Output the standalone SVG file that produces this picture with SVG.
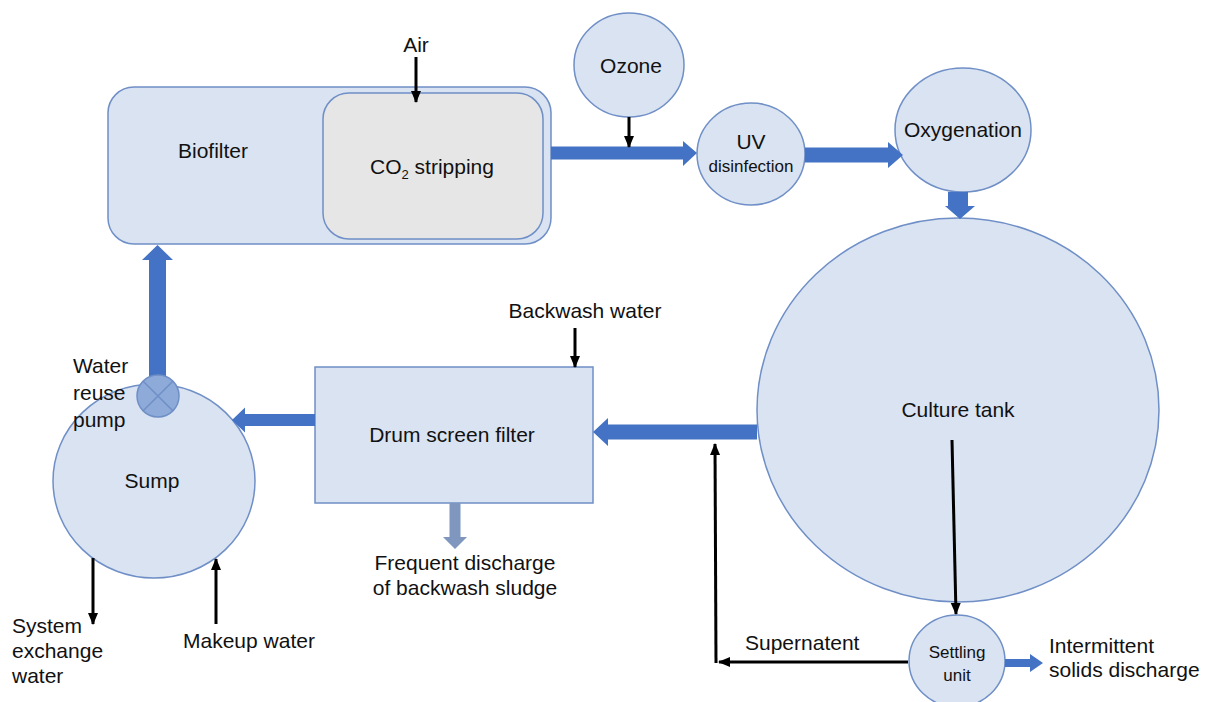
<svg xmlns="http://www.w3.org/2000/svg" width="1215" height="702" viewBox="0 0 1215 702">
<style>
text{font-family:"Liberation Sans",Arial,sans-serif;font-size:21px;fill:#111}
.sm{font-size:17px}
.node{fill:#d9e3f2;stroke:#6f8fc6;stroke-width:1.5}
.inner{fill:#e6e6e6;stroke:#6f8fc6;stroke-width:1.5}
.thick{fill:#4472c4}
.thin{stroke:#000;stroke-width:3;fill:none;marker-end:url(#ah)}
</style>
<defs>
<marker id="ah" markerUnits="userSpaceOnUse" markerWidth="12" markerHeight="12" viewBox="0 0 12 12" refX="11" refY="6" orient="auto">
<path d="M0,1 L12,6 L0,11 Z" fill="#000"/>
</marker>
</defs>
<rect width="1215" height="702" fill="#fff"/>

<g id="biofilter">
<rect class="node" x="108" y="87" width="443" height="157" rx="26"/>
<text x="213" y="158" text-anchor="middle">Biofilter</text>
</g>
<g id="co2">
<rect class="inner" x="323" y="93" width="220" height="146" rx="26"/>
<text x="432" y="174" text-anchor="middle">CO<tspan font-size="13" dy="5">2</tspan><tspan dy="-5"> stripping</tspan></text>
</g>
<g id="air"><text x="416" y="52" text-anchor="middle">Air</text></g>
<g id="ozone">
<ellipse class="node" cx="629" cy="65" rx="55" ry="52"/>
<text x="631" y="73" text-anchor="middle">Ozone</text>
</g>
<g id="uv">
<ellipse class="node" cx="751" cy="154" rx="54" ry="51"/>
<text x="751" y="149" text-anchor="middle">UV</text>
<text class="sm" x="751" y="172" text-anchor="middle">disinfection</text>
</g>
<g id="oxygenation">
<ellipse class="node" cx="963" cy="130" rx="68" ry="62"/>
<text x="963" y="137" text-anchor="middle">Oxygenation</text>
</g>
<g id="culture">
<ellipse class="node" cx="958" cy="410" rx="201" ry="192"/>
<text x="958" y="417" text-anchor="middle">Culture tank</text>
</g>
<g id="settling">
<ellipse class="node" cx="957" cy="661" rx="48" ry="46"/>
<text class="sm" x="957" y="658" text-anchor="middle">Settling</text>
<text class="sm" x="957" y="681" text-anchor="middle">unit</text>
</g>
<g id="drum">
<rect class="node" x="315" y="367" width="278" height="136"/>
<text x="452" y="442" text-anchor="middle">Drum screen filter</text>
</g>
<g id="backwash"><text x="585" y="318" text-anchor="middle">Backwash water</text></g>
<g id="sludge">
<text x="465" y="570" text-anchor="middle">Frequent discharge</text>
<text x="465" y="595" text-anchor="middle">of backwash sludge</text>
</g>
<g id="sump">
<ellipse class="node" cx="154" cy="481" rx="101" ry="97"/>
<text x="152" y="488" text-anchor="middle">Sump</text>
</g>
<g id="supernatent"><text x="745" y="650">Supernatent</text></g>
<g id="intermittent">
<text x="1049" y="653">Intermittent</text>
<text x="1049" y="677">solids discharge</text>
</g>
<g id="system-exchange">
<text x="12" y="633">System</text>
<text x="12" y="658">exchange</text>
<text x="12" y="683">water</text>
</g>
<g id="makeup"><text x="183" y="648">Makeup water</text></g>

<g id="connectors">
<polygon class="thick" points="551,146.5 683,146.5 683,141 697,153 683,166 683,159.5 551,159.5"/>
<polygon class="thick" points="805,147.5 888,147.5 888,142 903,155 888,168 888,162.5 805,162.5"/>
<polygon class="thick" points="948,192 968,192 968,206 975,206 960,219 945,206 952,206 948,206"/>
<polygon class="thick" points="757,424.5 608,424.5 608,418 593,432 608,446 608,439.5 757,439.5"/>
<polygon class="thick" points="315,414 245,414 245,407.5 232,420 245,432.5 245,426 315,426"/>
<polygon class="thick" points="149,390 149,260 142,260 157.5,245 173,260 166,260 166,390"/>
<polygon fill="#7f97bf" points="449.5,503 460.5,503 460.5,537 467,537 455,549 443,537 449.5,537"/>
<polygon class="thick" points="1005,659 1030,659 1030,654 1043,663 1030,672 1030,667 1005,667"/>
<line class="thin" x1="416" y1="57" x2="416" y2="102"/>
<line class="thin" x1="629" y1="117" x2="629" y2="147"/>
<line class="thin" x1="575" y1="328" x2="575" y2="367"/>
<line class="thin" x1="952" y1="440" x2="956" y2="614"/>
<line class="thin" x1="908" y1="662" x2="719" y2="662"/>
<line class="thin" x1="716" y1="663" x2="715" y2="444"/>
<line class="thin" x1="93" y1="558" x2="93" y2="624"/>
<line class="thin" x1="216" y1="624" x2="216" y2="559"/>
</g>

<g id="pump">
<circle cx="158" cy="396" r="21" fill="#8eaad9" stroke="#6f8fc6" stroke-width="1.5"/>
<path d="M143.2,381.2 L172.8,410.8 M172.8,381.2 L143.2,410.8" stroke="#6f8fc6" stroke-width="1.5"/>
<text x="73" y="373">Water</text>
<text x="73" y="400">reuse</text>
<text x="73" y="427">pump</text>
</g>
</svg>
